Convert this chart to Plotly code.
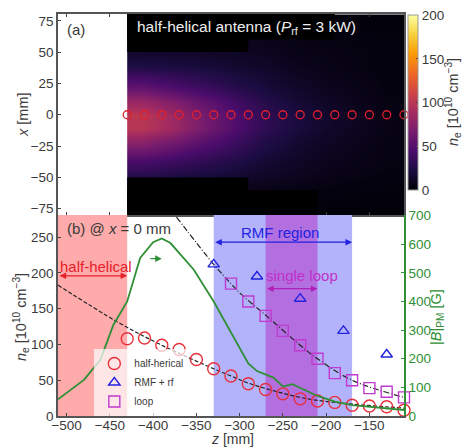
import plotly.graph_objects as go

FONT = "Liberation Sans"
INK = "#3a3a3a"
GREEN = "#2f8f35"

# --- panel (b) series
z_helical = [-430,-410,-390,-370,-350,-330,-310,-290,-270,-250,-230,-210,-190,-170,-150,-130,-110]
ne_helical = [108,109,99,93,79,66,56,45,37,31,24,21,19,15,14,13,8]
z_loop = [-310,-290,-270,-250,-230,-210,-190,-170,-150,-130,-110]
ne_loop = [185,160,140,119,99,80,60,50,39,34,26]
z_rmf = [-330,-280,-230,-180,-130]
ne_rmf = [212,195,164,119,86]
z_fit_helical = [-510,-442,-390,-330,-310,-290,-230,-190,-110]
ne_fit_helical = [183,132,99,66,56,46,26,19,11]
z_fit_loop = [-373,-330,-310,-299,-270,-230,-210,-170,-110]
ne_fit_loop = [278,212,185,171,141,99,80,50,26]
z_bfield = [-510,-480,-461,-446,-430,-415,-400,-390,-380,-353,-330,-311,-299,-290,-280,-261,-250,-239,-210,-190,-170,-150,-110]
b_bfield = [58,126,196,318,400,552,607,620,604,511,400,295,231,184,157,134,103,111,70,50,38,33,21]

# --- panel (a) map (cell edges, cell values)
map_z_edges = [-430,-394,-359,-323,-288,-252,-217,-181,-146,-110]
map_x_edges = [-80,-70,-55,-45,-32,-17,-5,5,17,32,45,55,70,80]
map_ne = [
    [3,3,3,3,3,3,2,2,2],
    [10,10,10,8,7,5,4,3,3],
    [24,21,19,15,12,9,7,5,4],
    [42,36,30,24,17,12,9,7,5],
    [70,60,48,36,24,16,11,8,5],
    [98,85,65,47,31,21,14,10,6],
    [100,85,65,48,32,22,15,10,6],
    [82,70,55,40,27,18,12,8,5],
    [50,42,34,26,19,13,9,7,4],
    [24,22,20,16,13,9,7,5,4],
    [14,14,13,12,10,7,6,5,4],
    [8,8,8,8,8,6,5,4,3],
    [3,3,3,3,3,3,3,2,2],
]
# black, unmeasured corners of the map: z0, z1, x0, x1
mask_boxes = [(-430,-290,50,81),(-430,-190,60,81),(-430,-290,-81,-50),(-430,-210,-81,-60)]
# shaded regions of panel (b): z0, z1, colour
bands = [(-510,-430,"#ffabab"),(-330,-170,"#b3b3fb"),(-270,-210,"#b36fe0")]
cbar_ticks = [0,50,100,150,200]

fig = go.Figure()
fig.add_trace(go.Heatmap(x=map_z_edges, y=map_x_edges, z=map_ne, zmin=0, zmax=200, colorscale="Inferno", zsmooth="best",
    xaxis="x", yaxis="y", showlegend=False,
    colorbar=dict(x=1.0116, xanchor="left", y=0.997, yanchor="top", lenmode="pixels", len=175, thickness=10,
                  thicknessmode="pixels", tickvals=cbar_ticks, ticks="inside", ticklen=2, xpad=0, ypad=0,
                  outlinecolor="#999", outlinewidth=1, tickfont=dict(size=13.5, color=INK, family=FONT))))
fig.add_trace(go.Scatter(x=z_helical, y=[0]*len(z_helical), mode="markers", xaxis="x", yaxis="y", showlegend=False,
    cliponaxis=False, marker=dict(symbol="circle-open", size=8, color="#e0202c", line=dict(width=1.3))))

fig.add_trace(go.Scatter(x=z_bfield, y=b_bfield, mode="lines", xaxis="x2", yaxis="y3", showlegend=False,
    line=dict(color=GREEN, width=1.8)))
fig.add_trace(go.Scatter(x=z_fit_helical, y=ne_fit_helical, mode="lines", xaxis="x2", yaxis="y2", showlegend=False,
    line=dict(color="#222", width=1.2, dash="4px,2px"), line_shape="spline"))
fig.add_trace(go.Scatter(x=z_fit_loop, y=ne_fit_loop, mode="lines", xaxis="x2", yaxis="y2", showlegend=False,
    line=dict(color="#222", width=1.2, dash="6px,2px,1px,2px"), line_shape="spline"))
fig.add_trace(go.Scatter(x=z_helical, y=ne_helical, mode="markers", name="half-herical", xaxis="x2", yaxis="y2", cliponaxis=False,
    marker=dict(symbol="circle-open", size=12, color="#e8303a", line=dict(width=1.4))))
fig.add_trace(go.Scatter(x=z_rmf, y=ne_rmf, mode="markers", name="RMF + rf", xaxis="x2", yaxis="y2", cliponaxis=False,
    marker=dict(symbol="triangle-up-open", size=10, color="#2222e0", line=dict(width=1.4))))
fig.add_trace(go.Scatter(x=z_loop, y=ne_loop, mode="markers", name="loop", xaxis="x2", yaxis="y2", cliponaxis=False,
    marker=dict(symbol="square-open", size=11, color="#c03ad0", line=dict(width=1.4))))

shapes = []
for z0, z1, col in bands:
    shapes.append(dict(type="rect", xref="x2", yref="y2", x0=z0, x1=z1, y0=0, y1=281, fillcolor=col, line_width=0, layer="below"))
for z0, z1, x0, x1 in mask_boxes:
    shapes.append(dict(type="rect", xref="x", yref="y", x0=z0, x1=z1, y0=x0, y1=x1, fillcolor="black", line_width=0, layer="above"))

def text(x, y, s, color=INK, size=14.5, anchor="left", angle=0):
    return dict(x=x, y=y, xref="paper", yref="paper", text=s, showarrow=False, textangle=angle, borderpad=0,
                font=dict(family=FONT, size=size, color=color), xanchor=anchor, yanchor="middle")

def px(x, y):
    return (x - 58) / 346, (416 - y) / 402

def arrow(z0, z1, y, color, both=True, yref="y2"):
    return dict(x=z1, y=y, ax=z0, ay=y, xref="x2", yref=yref, axref="x2", ayref=yref, text="", showarrow=True,
                arrowcolor=color, arrowwidth=1.2, arrowhead=2, arrowsize=1.1, startarrowhead=2, startarrowsize=1.1,
                arrowside="end+start" if both else "end")

NE_LABEL = "<i>n</i><sub>e</sub> [10<sup>10</sup> cm<sup>−3</sup>]"
annots = [
    text(*px(66, 29), "(a)", size=15),
    text(*px(136, 28), "half-helical antenna (<i>P</i><sub>rf</sub> = 3 kW)", color="#eeeeee", size=15.5),
    text(*px(66, 229), "(b) @ <i>x</i> = 0 mm", size=15),
    text(*px(59, 266), "half-helical", color="#e8202a", size=15),
    text(*px(240, 232), "RMF region", color="#2222e0", size=15),
    text(*px(265, 275), "single loop", color="#c030c8", size=15),
    arrow(-510, -430, 196, "#e8202a"),
    arrow(-330, -170, 243, "#2222e0"),
    arrow(-270, -210, 178, "#b020b8"),
    arrow(-405, -390, 220, GREEN, both=False),
    text(*px(453, 102), NE_LABEL, anchor="center", angle=-90),
    text(*px(21, 317), NE_LABEL, anchor="center", angle=-90),
    text(*px(23, 115), "<i>x</i> [mm]", anchor="center", angle=-90),
    text(*px(232, 439), "<i>z</i> [mm]", size=14, anchor="center"),
    text(*px(437, 317), "|<i>B</i>|<sub>PM</sub> [G]", color=GREEN, anchor="center", angle=-90),
]

tickf = dict(family=FONT, size=13.5, color=INK)
z_ticks = [-500,-450,-400,-350,-300,-250,-200,-150]
fig.update_layout(
    width=467, height=447, margin=dict(l=58, r=63, t=14, b=31, autoexpand=False), paper_bgcolor="white", plot_bgcolor="white",
    font=dict(family=FONT, color=INK),
    xaxis=dict(domain=[0,1], range=[-510,-110], anchor="y", tickvals=z_ticks, showticklabels=False, ticks="inside", ticklen=3,
               mirror="ticks", showline=True, linecolor="#555", linewidth=1.5, showgrid=False, zeroline=False),
    yaxis=dict(domain=[0.5,1], range=[-80,80.4], anchor="x", tickvals=[-75,-50,-25,0,25,50,75], ticks="inside", ticklen=3,
               tickfont=tickf, showline=True, mirror=True, linecolor="#555", linewidth=1.5, showgrid=False, zeroline=False),
    xaxis2=dict(domain=[0,1], range=[-510,-110], anchor="y2", tickvals=z_ticks, ticks="inside", ticklen=3, tickfont=tickf,
                ticklabelstandoff=-4,
                showline=True, linecolor="#555", linewidth=1.5, showgrid=False, zeroline=False),
    yaxis2=dict(domain=[0,0.5], range=[0,281], anchor="x2", tickvals=[0,50,100,150,200,250], ticks="inside", ticklen=3, tickfont=tickf,
                showline=True, linecolor="#555", linewidth=1.5, showgrid=False, zeroline=False),
    yaxis3=dict(domain=[0,0.5], range=[0,702], anchor="x2", overlaying="y2", side="right", tickvals=[0,100,200,300,400,500,600,700],
                ticks="inside", ticklen=3, tickcolor=GREEN, linecolor=GREEN, linewidth=1.5, showline=True, showgrid=False, zeroline=False,
                tickfont=dict(family=FONT, size=13.5, color=GREEN)),
    legend=dict(x=0.105, y=0.0, xanchor="left", yanchor="bottom", bgcolor="rgba(255,255,255,0.7)",
                font=dict(family=FONT, size=10, color=INK), itemwidth=30, borderwidth=0),
    shapes=shapes, annotations=annots,
)
fig.write_html("out.html", post_script="document.body.style.margin='0';", config={"displayModeBar": False})
